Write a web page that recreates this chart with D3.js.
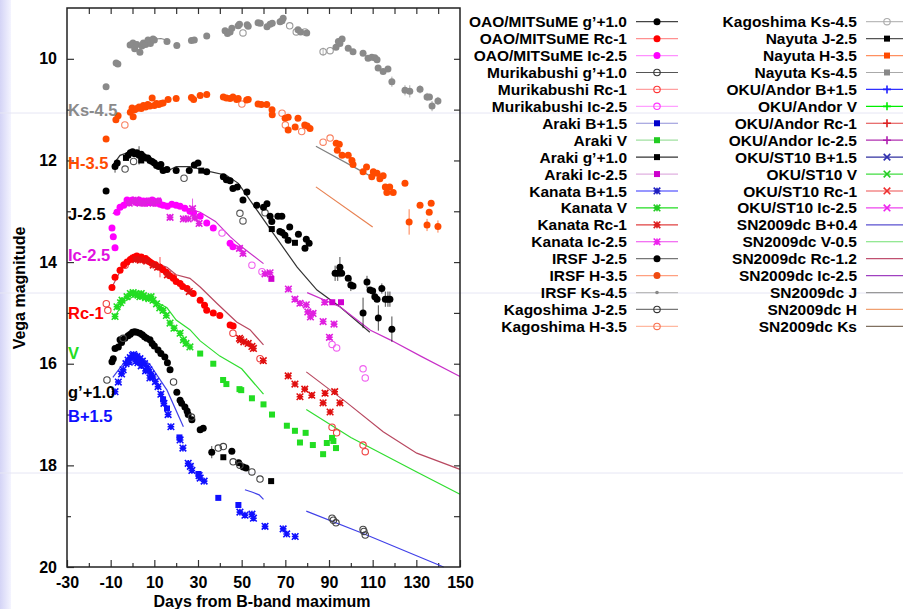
<!DOCTYPE html>
<html lang="en">
<head>
<meta charset="UTF-8">
<title>SN light curves</title>
<style>
  body { margin: 0; background: #fff; }
  svg text { font-family: "Liberation Sans", Arial, Helvetica, sans-serif; font-weight: bold; }
</style>
</head>
<body>
<svg id="chart" width="903" height="609"></svg>
<script src="https://d3js.org/d3.v7.min.js"></script>
<script>

// [day, magnitude, (error)]
var ksDots = [[-12.1,10.55],[-7.5,10.08],[-6.7,10.1],[-1.1,9.73],[0.2,9.69],[1,9.8],[2,9.72],[3.4,9.87],[4.3,9.75],[5,9.69],[6,9.72],
    [7.1,9.63],[8.2,9.7],[9.4,9.61],[10,9.63],[15.8,9.66],[20.3,9.74],[27,9.64],[28.3,9.63],[34,9.55],[42.4,9.45],[43.5,9.5],
    [44.7,9.47],[45.5,9.4],[48.4,9.35],[49,9.32],[52.5,9.33],[53,9.36],[57.5,9.29],[58.5,9.3],[61.6,9.37],[63,9.32],[64,9.3],
    [67.6,9.27],[68.5,9.25],[69,9.2],[75.8,9.43],[77,9.47],[79.8,9.49],[93.2,9.77],[94.3,9.66],[96,9.61],[95,9.7],[98.8,9.79],
    [101,9.86],[105.6,9.89],[107.9,9.99],[109.6,9.97],[111,9.98],[112,10.02],[112.5,10.18],[114.8,10.25],[117,10.2],
    [118.8,10.45,0.1],[124.8,10.62,0.1],[127,10.64,0.12],[131.7,10.6,0.08],[134.9,10.75,0.08],[136,10.75],[137.2,10.93,0.1],[139.9,10.83,0.08]];
var ksRings = [[50.6,9.49],[72,9.35],[75,9.47],[79,9.47],[87.3,9.86,0.08],[90.5,9.84]];

var hDots = [[-12.1,11.58],[-7.6,11.2],[-6.6,11.12],[-1,11.05],[-0.2,10.97],[0.3,11.14],[1,11.0],[2,10.98],[3,10.95],[4,10.98],
    [5,10.92],[6,10.95],[7,10.9],[8,10.93],[9,10.77],[10,10.92],[11,10.88],[12,10.9],[13,10.88],[14,10.87],[16.3,10.8],[20,10.78],
    [27,10.76],[28,10.8],[31,10.72],[34,10.7],[41.6,10.75],[43,10.77],[44.7,10.78],[46,10.75],[47.7,10.8],[48.4,10.78],[52.3,10.81],
    [53,10.8],[57.5,10.89],[59,10.9],[61.5,10.9],[63.9,11.0],[64,11.1],[69.9,11.17],[71.3,11.15],[71.3,11.4],[74.5,11.34],[75.8,11.17],
    [78.9,11.3],[80,11.32],[81.3,11.37],[93.3,11.66],[94.7,11.68],[93.8,11.8],[96,11.9],[98.8,11.9],[100.5,12.0],[101,12.08],
    [105.6,12.22],[107.2,12.13],[110.3,12.22],[109.6,12.32],[112,12.25],[113.3,12.36],[114.8,12.3],[115.8,12.52],[117.8,12.52],
    [116.5,12.63],[119.4,12.63],[124.8,12.45],[126.7,13.21,0.25],[131.7,12.88],[134.9,13.27,0.12],[135.9,13.02],[136.8,12.84],[139.9,13.3,0.12]];
var hRings = [[-3.5,11.3],[50.1,10.89],[68.5,11.07],[70,11.3],[77.5,11.43],[87.3,11.64],[90.5,11.56]];

var jDots = [[-12.1,12.6],[-8,12.12,0.12],[-7,12.05],[-2,11.9],[-1,11.85],[0,11.83],[1,11.87],[2,11.85],[3,11.9,0.18],[4,11.88],
    [5,11.92],[6,11.95],[7,11.95],[8,12.0],[9,12.02],[10,12.05],[11,12.1],[12,12.12],[13,12.08],[14,12.2],[15.8,12.18],[20,12.2],
    [26,12.2],[28.3,12.09],[30,12.05],[34,12.22],[41.6,12.32],[43,12.38],[44.7,12.4],[46,12.55],[48,12.52],[50.6,12.78],[52.4,12.62],
    [56.9,12.88],[60,12.92],[61.6,12.85],[63,13.1],[63.8,13.2],[66.6,13.1],[68.4,13.1],[67.5,13.4],[68.5,13.42],[69.8,13.47],
    [71.3,13.57],[72,13.31],[76,13.45],[79,13.73],[79.6,13.55],[80.9,13.63],[92.8,14.22,0.15],[94,14.22,0.15],[95,14.1,0.2],
    [95.8,14.22],[98.8,14.32],[100,14.45,0.12],[101,14.47],[105.6,15.0,0.3],[107.4,14.39,0.12],[108.8,14.55],[110,14.57],[111,14.68],
    [112,14.73],[112.6,15.1,0.25],[114.2,14.52,0.1],[115.8,14.73,0.15],[117,14.73,0.15],[117.9,14.73,0.15],[118.8,15.32,0.25]];
var jSquares = [[-3,11.95],[4,12.0],[31.5,12.2],[63.8,13.35],[74.4,13.62]];
var jRings = [[-3.4,12.17],[0.5,12.02],[23.6,12.35],[49.2,13.04],[50.6,13.19],[60.7,13.03]];

var icDots = [[-9.4,13.33],[-8.8,13.5],[-8,13.72],[-7.1,13.02],[-5.7,12.92],[-4,12.88],[-2.5,12.78],[-2,12.83],[-1,12.8],[0,12.78],
    [1,12.8],[2,12.83],[3,12.78],[4,12.82],[5,12.8],[6,12.84],[7,12.8],[8,12.83],[9,12.78],[10,12.84],[11,12.82],[12,12.8],[12.6,12.86],
    [14,12.88],[16,12.9],[18,12.86],[20,12.88],[21.8,12.9],[24,12.94],[26.3,13.0],[28,13.03],[31,13.1],[34,13.23],[37,13.33],[44.7,13.63],[46,13.7]];
var icStars = [[-1.5,12.84],[0.5,12.82],[1.5,12.78],[3.5,12.84],[5.5,12.84],[7.5,12.8],[9.5,12.84],[11.5,12.8],[17.2,13.12],
    [23.3,13.15],[25.5,13.15],[27.5,12.95,0.2],[28.6,13.13],[30.5,13.24],[49,13.73],[50.6,13.83],[60.7,14.23],[63,14.21],
    [71.4,14.53],[74.4,14.73],[76.7,14.81],[79.6,14.84],[80.3,14.98],[81.5,15.08],[82.7,15.01],[87.3,15.17],[88,14.79],[90.2,15.48],[92.3,15.22]];
var icSquares = [[63.6,14.33],[95.5,14.79],[91.5,14.79]];
var icRings = [[41,13.43],[54.7,14.06],[59.3,14.19],[91.4,15.62],[93.5,15.69],[105.6,16.1],[106.6,16.28]];

var rcDots = [[-9.4,14.5],[-8,14.3],[-5.7,14.16],[-4,14.05],[-2.5,14.0],[-1,13.95],[0,13.92],[1,13.9],[2,13.88],[3,13.92],[4,13.9],
    [5,13.95],[6,13.93],[7,13.97],[8,14.0],[9,14.03],[10.5,14.05],[12.6,14.1,0.2],[14,14.15],[15.5,14.2],[17,14.27],[18.7,14.32],
    [20,14.38],[21.8,14.42],[23,14.48],[25,14.52],[27.8,14.62],[31,14.75],[33,14.85],[34,14.95],[37,15.0],[40,15.05],[44.7,15.24],[46.1,15.26]];
var rcStars = [[1.5,13.95],[3.5,13.96],[6.5,13.98],[9.5,14.06],[11.5,14.1],[16,14.25],[26,14.58],[49,15.5],[49.5,15.53],[51,15.57],[53,15.6],
    [54.7,15.66],[55.4,15.7],[59.9,15.94],[71.3,16.24],[74.4,16.4],[76.7,16.65],[78.9,16.5],[82.1,16.62],[87.3,16.77],[88.2,16.58],
    [90.5,16.95],[92.6,16.55],[95,16.77]];
var rcRings = [[-12,14.82],[-11.3,14.95],[-3.4,14.06],[18.7,14.3],[46,15.4],[58.4,15.9],[91.4,17.25],[93.5,17.36],[105.6,17.6],[106.6,17.73]];

var vStars = [[-8,15.07],[-7.1,14.88],[-5.5,14.8],[-4.8,14.75],[-2.5,14.68],[-1,14.62],[0.3,14.6],[1.5,14.62],[2.5,14.65],[3.4,14.68],
    [4,14.62],[5,14.66],[6,14.7],[7.5,14.72],[8.5,14.68],[9.4,14.75],[11,14.82],[12.5,14.9],[14,14.95],[15.5,15.05],[17.2,15.2],
    [19,15.3],[21.8,15.4],[23.3,15.53],[24.5,15.6],[26.3,15.67]];
var vSquares = [[31,15.8],[37,16.0],[41.5,16.32],[43,16.4],[49,16.5],[49.8,16.52],[54.7,16.68],[60,16.8],[63.9,17.0],[70.7,17.22],
    [74.4,17.32],[76.7,17.55],[79.3,17.36],[82.6,17.6],[87.3,17.78],[89,17.56],[91.4,17.46],[92,17.52],[93.2,17.66]];

var gDots = [[-9.4,15.96],[-8.8,15.9],[-8,15.7],[-6.5,15.67],[-5.7,15.53],[-5,15.58],[-3.5,15.5],[-2,15.45],[-1,15.42],[0,15.38],
    [1,15.37],[2,15.38],[3.4,15.4],[4.5,15.43],[5.5,15.47],[6.5,15.5],[8,15.53],[9,15.6],[10,15.65],[11.7,15.73],[13,15.8],
    [14.8,15.87],[16,15.98],[17.2,16.12],[20.3,16.56],[21.8,16.72],[22.5,16.78],[24,16.85],[25,16.93],[25.5,17.0],[27.2,17.1],
    [31,17.3],[32.4,17.27],[36.3,17.74,0.12],[45.5,17.72],[48.6,17.95],[50.7,18.03],[52,18.05]];
var gSquares = [[41.6,17.84],[63.5,18.31]];
var gRings = [[-11.7,16.32],[-4.3,15.5],[18.8,16.36],[27,17.05],[39.3,17.66],[41.6,17.63],[46.1,17.93],[49.2,18.0],[54.7,18.13],
    [58.4,18.27],[91.4,19.04],[92,19.08],[93.2,19.13],[105.6,19.26],[106,19.3],[106.6,19.37]];

var bStars = [[-8,16.55],[-6.5,16.36],[-5,16.2],[-4.3,16.12],[-3,16.0],[-2,15.93],[-1.5,15.97],[-1,15.88],[0,15.84],[0.5,15.82],
    [1,15.85],[1.5,15.95],[2,15.86],[2.5,15.98],[3.4,15.9],[4,16.04],[4.5,15.95],[5.5,16.0],[6,16.14],[6.6,16.06],[7.5,16.12],
    [8,16.28],[8.5,16.2],[9.4,16.26],[10.5,16.35],[11.7,16.45],[13,16.6],[14.4,16.78],[16.3,17.0],[17.6,17.24],[21.8,17.5],
    [23.1,17.66],[25.5,17.96],[26.5,18.02],[27.2,18.1],[30.5,18.2],[31,18.25],[32.8,18.31],[49.2,18.92],[51.5,18.98],[54.7,18.96],
    [55.4,19.04],[60.7,19.2],[69,19.25],[70.6,19.35],[74.5,19.4]];
var bSquares = [[14,16.7],[15.8,16.88],[21.5,17.45],[30.2,18.17],[39.3,18.64],[48.5,18.78]];

// SN 2009dc template curves, split where the template has gaps
var snKs = [[[9,9.62],[13,9.6],[16.5,9.64]], [[84,11.72],[104,12.19],[110,12.33]]];
var snH = [[[84,12.52],[110,13.31]]];
var snJ = [[[-9,12.09],[-5.7,11.9],[-1.1,11.83],[4,11.86],[10.3,12.05],[15.6,12.22],[20,12.12],[26.3,12.12],[35.5,12.22],[43,12.29],
    [48.5,12.45],[53.8,12.78],[64.4,13.43],[75.4,14.1],[84.5,14.55],[95,14.88],[108.7,15.38]]];
var snIc = [[[-9,13.05],[-3,12.78],[5,12.77],[12,12.82],[20,12.88],[31,13.02],[38,13.2],[44.7,13.5],[50,13.7],[60,14.03]],
    [[80,14.6],[95,14.88],[109,15.34],[118,15.53],[132,15.85],[150,16.25]]];
var snRc = [[[-9.4,14.49],[-3.4,14.0],[1,13.9],[8,13.98],[15.8,14.1],[20,14.25],[26.3,14.32],[31,14.49],[38.6,14.81],[47.7,15.18],
    [53.8,15.33],[60,15.63]], [[79.6,16.16],[98.3,16.77],[114.8,17.34],[130.2,17.76],[150,18.08]]];
var snV = [[[-8,15.07],[-4.3,14.79],[0.3,14.68],[8,14.72],[15.8,14.9],[20,15.14],[26.3,15.33],[31,15.55],[40,15.85],[50,16.1],
    [55,16.35],[60,16.6]], [[79.6,16.9],[100,17.45],[130.2,18.13],[150,18.57]]];
var snB = [[[-9,16.27],[-2,15.87],[2,15.8],[8,16.02],[15.8,16.52],[23.3,17.24]], [[51.5,18.48],[55,18.53],[58,18.58],[60,18.67]],
    [[79.6,18.9],[105.6,19.34],[142.5,20.0]]];

var bandLabels = ["Ks-4.5", "H-3.5", "J-2.5", "Ic-2.5", "Rc-1", "V", "g\u2019+1.0", "B+1.5"];
var bandLabelMags = [11.13, 12.16, 13.17, 13.97, 15.12, 15.9, 16.68, 17.14];

var legendLeft = ["OAO/MITSuME g\u2019+1.0", "OAO/MITSuME Rc-1", "OAO/MITSuME Ic-2.5", "Murikabushi g\u2019+1.0",
    "Murikabushi Rc-1", "Murikabushi Ic-2.5", "Araki B+1.5", "Araki V", "Araki g\u2019+1.0", "Araki Ic-2.5",
    "Kanata B+1.5", "Kanata V", "Kanata Rc-1", "Kanata Ic-2.5", "IRSF J-2.5", "IRSF H-3.5", "IRSF Ks-4.5",
    "Kagoshima J-2.5", "Kagoshima H-3.5"];
var legendRight = ["Kagoshima Ks-4.5", "Nayuta J-2.5", "Nayuta H-3.5", "Nayuta Ks-4.5", "OKU/Andor B+1.5", "OKU/Andor V",
    "OKU/Andor Rc-1", "OKU/Andor Ic-2.5", "OKU/ST10 B+1.5", "OKU/ST10 V", "OKU/ST10 Rc-1", "OKU/ST10 Ic-2.5",
    "SN2009dc B+0.4", "SN2009dc V-0.5", "SN2009dc Rc-1.2", "SN2009dc Ic-2.5", "SN2009dc J", "SN2009dc H", "SN2009dc Ks"];

var col = {
    ks: "#8a8a8a", h: "#ff4a00", j: "#000000", ic: "#ff00ff", rc: "#ff0000", v: "#22dd22", b: "#1010ff"
};
var bandLabelColors = [col.ks, col.h, col.j, "#e010e0", col.rc, col.v, col.j, col.b];

// marker shape + colour for each legend row
var leftStyle = [["dot", "#000", "#444"], ["dot", "#f00", "#ff9090"], ["dot", "#f0f", "#ff90ff"], ["ring", "#333", "#555"],
    ["ring", "#f33", "#ffa0a0"], ["ring", "#f3f", "#ffa0ff"], ["square", "#0000cc", "#9090d8"], ["square", "#22cc22", "#a0e0a0"],
    ["square", "#000", "#333"], ["square", "#cc00cc", "#e0b0e0"], ["star", "#2020c0", "#3030ff"], ["star", "#22cc22", "#22dd22"],
    ["star", "#dd2020", "#e04040"], ["star", "#ee22ee", "#ee44ee"], ["dot", "#000", "#777"], ["dot", "#f04a10", "#ffa080"],
    ["small", "#888", "#bbb"], ["ring", "#333", "#777"], ["ring", "#f87050", "#ffb8a0"]];
var rightStyle = [["ring", "#aaa", "#bbb"], ["square", "#000", "#555"], ["square", "#ff4a00", "#ff9060"], ["square", "#888", "#aaa"],
    ["plus", "#2020ff", "#3030ff"], ["plus", "#00ee00", "#00ee00"], ["plus", "#dd2020", "#e04040"], ["plus", "#b020b0", "#b030b0"],
    ["cross", "#3030b0", "#3030a0"], ["cross", "#22cc22", "#40dd40"], ["cross", "#ee3030", "#ee5050"], ["cross", "#ee22ee", "#ee44ee"],
    ["none", "", "#5a50d0"], ["none", "", "#70e070"], ["none", "", "#c05070"], ["none", "", "#a040c0"], ["none", "", "#999"],
    ["none", "", "#f0a070"], ["none", "", "#807060"]];

var svg = d3.select("#chart"),
    x = d3.scaleLinear().domain([-30, 150]).range([67, 460]),
    y = d3.scaleLinear().domain([9, 20]).range([8, 567]);

// slide background bits
var grad = svg.append("defs").append("linearGradient").attr("id", "lg");
grad.append("stop").attr("offset", "0").attr("stop-color", "#d4d4f6");
grad.append("stop").attr("offset", "1").attr("stop-color", "#f4f4ff");
svg.append("rect").attr("x", 0).attr("y", 0).attr("width", 11).attr("height", 609).attr("fill", "url(#lg)");
[113, 293, 473].forEach(function (yy) {
    svg.append("line").attr("x1", 0).attr("x2", 903).attr("y1", yy).attr("y2", yy)
        .attr("stroke", "#e6e6f4").attr("stroke-width", 1);
});

// axes with inward ticks
function noDomain(g) { g.select(".domain").remove(); }
var fmt = function (d) { return d; };
svg.append("g").attr("transform", "translate(0,567)")
    .call(d3.axisBottom(x).tickValues(d3.range(-30, 151, 20)).tickSize(-7).tickPadding(10).tickFormat(fmt))
    .call(noDomain);
svg.append("g").attr("transform", "translate(0,567)")
    .call(d3.axisBottom(x).tickValues(d3.range(-20, 150, 20)).tickSize(-4).tickFormat(""))
    .call(noDomain);
svg.append("g").attr("transform", "translate(0,8)")
    .call(d3.axisTop(x).tickValues(d3.range(-20, 150, 10)).tickSize(-6).tickFormat(""))
    .call(noDomain);
svg.append("g").attr("transform", "translate(67,0)")
    .call(d3.axisLeft(y).tickValues(d3.range(10, 21, 2)).tickSize(-7).tickPadding(10).tickFormat(fmt))
    .call(noDomain);
svg.append("g").attr("transform", "translate(67,0)")
    .call(d3.axisLeft(y).tickValues(d3.range(11, 20, 2)).tickSize(-4).tickFormat(""))
    .call(noDomain);
svg.append("g").attr("transform", "translate(460,0)")
    .call(d3.axisRight(y).tickValues(d3.range(10, 20, 1)).tickSize(-6).tickFormat(""))
    .call(noDomain);
svg.selectAll(".tick text").attr("font-size", 16).attr("fill", "#000");
svg.selectAll(".tick line").attr("stroke", "#333").attr("stroke-width", 1.2);

svg.append("text").attr("transform", "translate(25,288) rotate(-90)").attr("text-anchor", "middle")
    .attr("font-size", 16).text("Vega magnitude");
svg.append("text").attr("x", 262).attr("y", 607).attr("text-anchor", "middle")
    .attr("font-size", 16).text("Days from B-band maximum");

var plot = svg.append("g");

// template lines
var line = d3.line().x(function (d) { return x(d[0]); }).y(function (d) { return y(d[1]); }).curve(d3.curveLinear);
[[snKs, "#808080"], [snH, "#e88050"], [snJ, "#333"], [snIc, "#c830c8"], [snRc, "#b84860"], [snV, "#30dd30"], [snB, "#4040e8"]]
    .forEach(function (s) {
        s[0].forEach(function (seg) {
            plot.append("path").datum(seg).attr("d", line).attr("fill", "none")
                .attr("stroke", s[1]).attr("stroke-width", 1.2);
        });
    });

function mark(g, shape, color, px, py) {
    var s;
    if (shape === "dot") {
        g.append("circle").attr("cx", px).attr("cy", py).attr("r", 3.5).attr("fill", color);
    } else if (shape === "small") {
        g.append("circle").attr("cx", px).attr("cy", py).attr("r", 1.8).attr("fill", color);
    } else if (shape === "ring") {
        g.append("circle").attr("cx", px).attr("cy", py).attr("r", 3.2).attr("fill", "none")
            .attr("stroke", color).attr("stroke-width", 1.1);
    } else if (shape === "square") {
        g.append("rect").attr("x", px - 3).attr("y", py - 3).attr("width", 6).attr("height", 6).attr("fill", color);
    } else if (shape === "star" || shape === "plus" || shape === "cross") {
        s = shape === "plus" ? 4 : 3.3;
        var p = "";
        if (shape !== "cross") p += "M" + (px - s) + "," + py + "H" + (px + s) + "M" + px + "," + (py - s) + "V" + (py + s);
        if (shape !== "plus") p += "M" + (px - s) + "," + (py - s) + "L" + (px + s) + "," + (py + s) +
            "M" + (px - s) + "," + (py + s) + "L" + (px + s) + "," + (py - s);
        g.append("path").attr("d", p).attr("stroke", color).attr("stroke-width", 1.6).attr("fill", "none");
    }
}

function series(data, shape, color) {
    var g = plot.append("g");
    data.forEach(function (d) {
        if (d.length > 2) {
            g.append("line").attr("x1", x(d[0])).attr("x2", x(d[0]))
                .attr("y1", y(d[1] - d[2])).attr("y2", y(d[1] + d[2]))
                .attr("stroke", color).attr("stroke-width", 1).attr("opacity", 0.7);
        }
        mark(g, shape, color, x(d[0]), y(d[1]));
    });
}

series(ksRings, "ring", "#9a9a9a");
series(ksDots, "dot", col.ks);
series(hRings, "ring", "#f88060");
series(hDots, "dot", col.h);
series(jRings, "ring", "#555");
series(jDots, "dot", col.j);
series(jSquares, "square", col.j);
series(icRings, "ring", "#f060f0");
series(icDots, "dot", col.ic);
series(icStars, "star", "#e020e0");
series(icSquares, "square", "#d000d0");
series(rcRings, "ring", "#f04040");
series(rcDots, "dot", col.rc);
series(rcStars, "star", "#e01010");
series(vStars, "star", col.v);
series(vSquares, "square", col.v);
series(gDots, "dot", col.j);
series(gSquares, "square", col.j);
series(gRings, "ring", "#444");
series(bStars, "star", col.b);
series(bSquares, "square", col.b);

// band labels inside the frame
bandLabels.forEach(function (t, i) {
    svg.append("text").attr("x", 68).attr("y", y(bandLabelMags[i])).attr("font-size", 16.5)
        .attr("fill", bandLabelColors[i]).text(t);
});

// frame
svg.append("rect").attr("x", 67).attr("y", 8).attr("width", 393).attr("height", 559)
    .attr("fill", "none").attr("stroke", "#222").attr("stroke-width", 1.5);

// legend
var rowY = d3.scaleLinear().domain([0, 18]).range([21.7, 326.4]);
function legend(names, styles, textRight, lx1, lx2) {
    names.forEach(function (n, i) {
        var yy = rowY(i), st = styles[i];
        svg.append("text").attr("x", textRight).attr("y", yy).attr("dy", "0.36em").attr("text-anchor", "end")
            .attr("font-size", 15.5).text(n);
        svg.append("line").attr("x1", lx1).attr("x2", lx2).attr("y1", yy).attr("y2", yy)
            .attr("stroke", st[2]).attr("stroke-width", 1.2);
        if (st[0] !== "none") mark(svg, st[0], st[1], (lx1 + lx2) / 2, yy);
    });
}
legend(legendLeft, leftStyle, 627, 636, 678);
legend(legendRight, rightStyle, 857, 866, 908);

</script>
</body>
</html>
